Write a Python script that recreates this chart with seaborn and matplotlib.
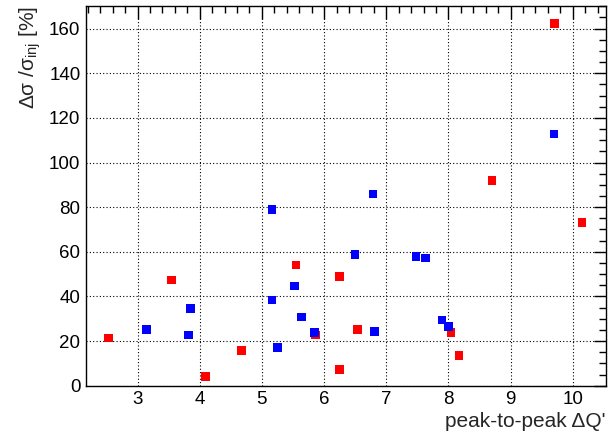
import numpy as np
import pandas as pd
import matplotlib
matplotlib.use("Agg")
import matplotlib.pyplot as plt
import seaborn as sns
from matplotlib.ticker import MultipleLocator

# red series
red_dq = [2.53, 3.55, 4.09, 4.67, 5.55, 5.86, 6.25, 6.25, 6.54, 8.04, 8.17, 10.15, 8.70, 9.71]
red_ds = [21.4, 47.4, 4.0, 15.7, 54.0, 22.8, 48.9, 7.2, 25.3, 23.8, 13.5, 73.0, 91.9, 162.4]

# blue series
blue_dq = [3.14, 3.85, 3.82, 5.16, 5.16, 5.25, 5.52, 5.64, 5.85, 6.50, 6.81, 6.79, 7.48, 7.63, 7.90, 8.00, 9.70]
blue_ds = [25.3, 34.6, 22.8, 79.0, 38.3, 17.2, 44.6, 30.8, 23.8, 58.8, 24.2, 85.8, 57.9, 57.3, 29.5, 26.4, 112.7]

df = pd.DataFrame({
    "dq": red_dq + blue_dq,
    "ds": red_ds + blue_ds,
    "set": ["red"] * len(red_dq) + ["blue"] * len(blue_dq),
})

sns.set_style("white")
plt.rcParams["font.family"] = ["Liberation Sans", "DejaVu Sans"]

fig = plt.figure(figsize=(6.08, 4.32), dpi=100)
ax = fig.add_axes([0.1414, 0.1072, 0.8548, 0.8782])

sns.scatterplot(data=df, x="dq", y="ds", hue="set",
                palette={"red": "#ff0000", "blue": "#0000ff"},
                marker="s", s=38, edgecolor="none", legend=False, ax=ax, zorder=3)

ax.set_xlim(2.17, 10.53)
ax.set_ylim(0, 170)
ax.xaxis.set_major_locator(MultipleLocator(1))
ax.xaxis.set_minor_locator(MultipleLocator(0.2))
ax.yaxis.set_major_locator(MultipleLocator(20))
ax.yaxis.set_minor_locator(MultipleLocator(5))

ax.grid(True, which="major", color="black", linestyle=(0, (1, 2)), linewidth=0.8)
ax.tick_params(which="both", direction="in", top=True, right=True, labelsize=13.5,
               colors="black", pad=4)
ax.tick_params(which="major", length=9, width=1)
ax.tick_params(which="minor", length=5, width=1)
for sp in ax.spines.values():
    sp.set_color("black")
    sp.set_linewidth(1)

ax.set_xlabel("peak-to-peak ΔQ'", fontsize=15, loc="right", labelpad=3)
ax.set_ylabel(r"Δσ /σ$_{\mathregular{inj}}$ [%]", fontsize=15, loc="top", labelpad=4)

fig.savefig("out.png", dpi=100)
